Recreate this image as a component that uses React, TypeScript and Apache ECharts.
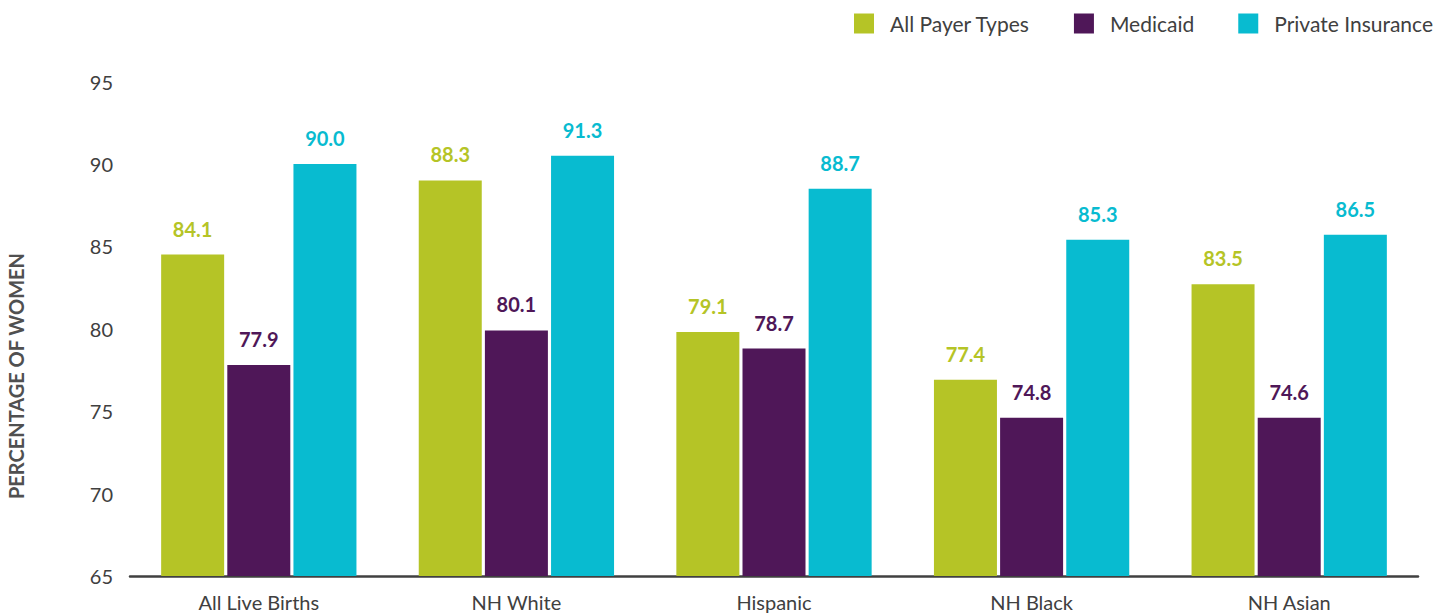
import React, { useEffect, useRef } from "react";
import * as echarts from "echarts";

const categories = ["All Live Births", "NH White", "Hispanic", "NH Black", "NH Asian"];
const seriesNames = ["All Payer Types", "Medicaid", "Private Insurance"];
// Bar heights as drawn in the reference
const allPayerBars = [84.5, 89.0, 79.8, 76.9, 82.7];
const medicaidBars = [77.8, 79.9, 78.8, 74.6, 74.6];
const privateBars = [90.0, 90.5, 88.5, 85.4, 85.7];
// Values printed above the bars
const allPayerLabels = ["84.1", "88.3", "79.1", "77.4", "83.5"];
const medicaidLabels = ["77.9", "80.1", "78.7", "74.8", "74.6"];
const privateLabels = ["90.0", "91.3", "88.7", "85.3", "86.5"];
const yTicks = [65, 70, 75, 80, 85, 90, 95];

const colors = ["#B5C426", "#4F1758", "#08BBD0"];
const FONT = "Lato, 'Open Sans', sans-serif";

export default function App() {
  const ref = useRef<HTMLDivElement>(null);
  useEffect(() => {
    document.body.style.margin = "0";
    const chart = echarts.init(ref.current!, null, { renderer: "svg" });
    const bars = [allPayerBars, medicaidBars, privateBars];
    const labels = [allPayerLabels, medicaidLabels, privateLabels];
    chart.setOption({
      animation: false,
      textStyle: { fontFamily: FONT },
      legend: {
        right: 16,
        top: 8,
        itemWidth: 20,
        itemHeight: 20,
        itemGap: 44,
        icon: "rect",
        textStyle: { fontSize: 21, color: "#404040", fontFamily: FONT, padding: [0, 0, 0, 11] },
        data: seriesNames,
      },
      grid: { left: 130, right: 36, top: 81.5, bottom: 40, containLabel: false },
      xAxis: {
        type: "category",
        data: categories,
        axisLine: { show: true, lineStyle: { color: "#404040", width: 2.5 } },
        axisTick: { show: false },
        axisLabel: { color: "#404040", fontSize: 20, margin: 16, fontFamily: FONT },
      },
      yAxis: {
        type: "value",
        min: yTicks[0],
        max: yTicks[yTicks.length - 1],
        interval: 5,
        axisLine: { show: false },
        axisTick: { show: false },
        splitLine: { show: false },
        axisLabel: { color: "#404040", fontSize: 20, margin: 17, fontFamily: FONT },
      },
      graphic: [
        {
          type: "text",
          x: 16,
          y: 376,
          rotation: Math.PI / 2,
          style: {
            text: "PERCENTAGE OF WOMEN",
            fill: "#505050",
            font: `bold 20px ${FONT}`,
            align: "center",
            verticalAlign: "middle",
          },
        },
      ],
      series: seriesNames.map((name, i) => ({
        name,
        type: "bar",
        data: bars[i],
        barWidth: 63,
        barGap: "5%",
        itemStyle: { color: colors[i] },
        label: {
          show: true,
          position: "top",
          distance: 16,
          color: colors[i],
          fontSize: 20,
          fontWeight: "bold",
          fontFamily: FONT,
          formatter: (p: any) => labels[i][p.dataIndex],
        },
      })),
    });
    return () => chart.dispose();
  }, []);
  return <div ref={ref} style={{ width: 1454, height: 616 }} />;
}
